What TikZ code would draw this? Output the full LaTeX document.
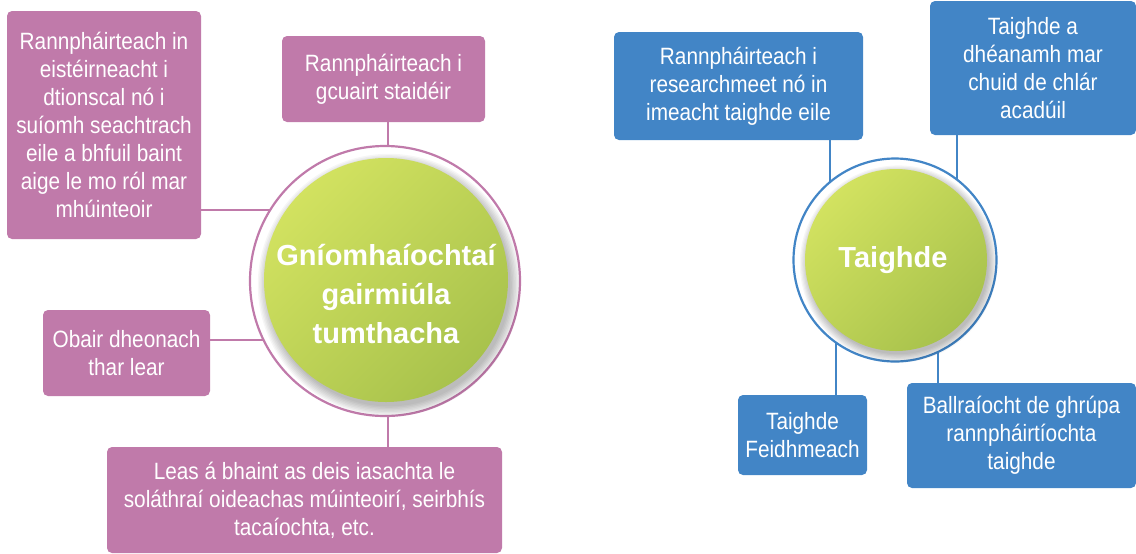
\documentclass[tikz,border=0pt]{standalone}
\usepackage{fontspec}
\setmainfont{Liberation Sans}
\newfontfamily\boxfont{Liberation Sans}[FakeStretch=0.88]
\definecolor{pinkbox}{RGB}{192,122,170}
\definecolor{bluebox}{RGB}{66,133,198}
\definecolor{greenlt}{RGB}{210,226,96}
\definecolor{greendk}{RGB}{168,194,76}
\begin{document}
\begin{tikzpicture}[x=0.5pt,y=-0.5pt,
  pbox/.style={fill=pinkbox,text=white,rounded corners=2.5pt,align=center,
    inner sep=0pt,font=\boxfont\fontsize{11.8}{14}\selectfont},
  bbox/.style={pbox,fill=bluebox},
  pline/.style={draw=pinkbox,line width=1pt},
  bline/.style={draw=bluebox,line width=1pt},
  ring/.style={circle,fill=white,line width=1.1pt,inner sep=0pt},
  green/.style={circle,inner sep=0pt,top color=greenlt,bottom color=greendk,shading angle=45},
  ctext/.style={text=white,align=center,font=\fontsize{14.5}{19.5}\selectfont\bfseries}]
\useasboundingbox (0,0) rectangle (1136,553);
%
\node[pbox,minimum width=97pt,minimum height=114pt](b1)at(104,125)
  {Rannpháirteach in\\eistéirneacht i\\dtionscal nó i\\suíomh seachtrach\\eile a bhfuil baint\\aige le mo ról mar\\mhúinteoir};
\node[pbox,minimum width=101.5pt,minimum height=43pt](b2)at(383.5,79)
  {Rannpháirteach i\\gcuairt staidéir};
\node[pbox,minimum width=83.5pt,minimum height=43pt](b3)at(126.5,353)
  {Obair dheonach\\thar lear};
\node[pbox,minimum width=197.5pt,minimum height=53pt](b4)at(304.5,500)
  {Leas á bhaint as deis iasachta le\\soláthraí oideachas múinteoirí, seirbhís\\tacaíochta, etc.};
%
\node[bbox,minimum width=124.5pt,minimum height=54pt](r1)at(738.5,86)
  {Rannpháirteach i\\researchmeet nó in\\imeacht taighde eile};
\node[bbox,minimum width=103pt,minimum height=67pt](r2)at(1033,68)
  {Taighde a\\dhéanamh mar\\chuid de chlár\\acadúil};
\node[bbox,minimum width=64.5pt,minimum height=40pt](r3)at(802.5,435)
  {Taighde\\Feidhmeach};
\node[bbox,minimum width=114.5pt,minimum height=52.5pt](r4)at(1021.5,435.5)
  {Ballraíocht de ghrúpa\\rannpháirtíochta\\taighde};
%
\coordinate(lc)at(386,280);
\coordinate(rc)at(896,260);
\draw[pline]([yshift=-42.5pt]b1.east)-|(lc);
\draw[pline]([xshift=2.25pt]b2.south)|-(lc);
\draw[pline]([yshift=6.5pt]b3.east)-|(lc);
\draw[pline]([xshift=41.75pt]b4.north)|-(lc);
\draw[bline]([xshift=45.75pt]r1.south)|-(rc);
\draw[bline]([xshift=-38pt]r2.south)|-(rc);
\draw[bline]([xshift=16.75pt]r3.north)|-(rc);
\draw[bline]([xshift=-41.75pt]r4.north)|-(rc);
%
\node[ring,draw=pinkbox,minimum size=135pt](lring)at(385,281){};
\node[ring,draw=bluebox,minimum size=101.5pt](rring)at(895,260){};
\foreach \k in {1,...,8}{
  \fill[black,opacity=0.035]([xshift=1.5pt,yshift=-2.5pt]lc)circle({60pt+\k*0.7pt});
  \fill[black,opacity=0.035]([xshift=1.2pt,yshift=-2pt]rc)circle({44.5pt+\k*0.6pt});
}
\node[green,minimum size=122pt](lmid)at(lc){};
\node[green,minimum size=91pt](rmid)at(rc){};
\node[ctext](ltxt)at([yshift=-7pt]lc){Gníomhaíochtaí\\gairmiúla\\tumthacha};
\node[ctext](rtxt)at([xshift=-1.5pt]rc){Taighde};
\end{tikzpicture}
\end{document}
